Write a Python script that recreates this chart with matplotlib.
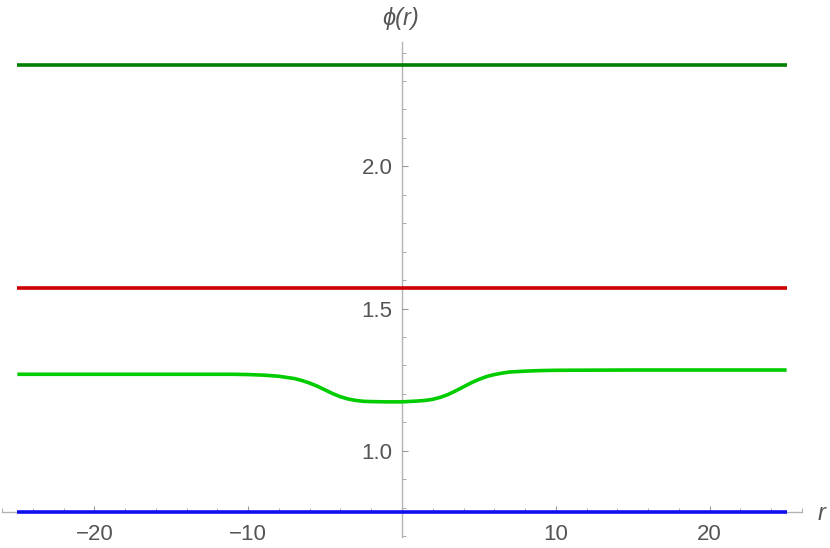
import numpy as np
import matplotlib
matplotlib.use("Agg")
import matplotlib.pyplot as plt
from matplotlib.ticker import MultipleLocator, FixedLocator

# ---- data ----
r_range = [-25.0, 25.0]
phi_dark_green = 3 * np.pi / 4
phi_red = np.pi / 2
phi_blue = np.pi / 4

r_green = [-25, -15, -11, -10, -9, -8, -7, -6.5, -6, -5.5, -5, -4.5, -4, -3.5, -3, -2.5, -2, -1, 0,
           1, 1.5, 2, 2.5, 3, 3.5, 4, 4.5, 5, 5.5, 6, 6.5, 7, 8, 9, 10, 15, 25]
phi_green = [1.269, 1.269, 1.269, 1.268, 1.266, 1.262, 1.254, 1.247, 1.238, 1.227, 1.214, 1.201,
             1.190, 1.182, 1.177, 1.174, 1.173, 1.172, 1.172,
             1.175, 1.177, 1.181, 1.188, 1.198, 1.211, 1.225, 1.239, 1.251, 1.261, 1.268,
             1.273, 1.277, 1.280, 1.282, 1.283, 1.284, 1.284]

x_major = [-20, -10, 10, 20]
x_major_labels = ["\u221220", "\u221210", "10", "20"]
y_major = [1.0, 1.5, 2.0]
y_major_labels = ["1.0", "1.5", "2.0"]

# ---- figure ----
plt.rcParams['font.family'] = ['Liberation Sans', 'DejaVu Sans']
fig = plt.figure(figsize=(8.3, 5.48), dpi=100)
ax = fig.add_axes([2 / 830, 11 / 548, 800 / 830, 495 / 548])
ax.set_xlim(-26, 26)
ax.set_ylim(0.697, 2.437)

lw = 2.6
ax.plot(r_range, [phi_dark_green] * 2, color='#008000', lw=lw, solid_capstyle='butt', zorder=3)
ax.plot(r_range, [phi_red] * 2, color='#cc0000', lw=lw, solid_capstyle='butt', zorder=3)
ax.plot(r_green, phi_green, color='#00cc00', lw=lw, solid_capstyle='butt',
        solid_joinstyle='round', zorder=3)
ax.plot(r_range, [phi_blue] * 2, color='#1010ee', lw=lw, solid_capstyle='butt', zorder=3)

axis_col = '#b3b3b3'
for s in ['top', 'right']:
    ax.spines[s].set_visible(False)
ax.spines['left'].set_position(('data', 0))
ax.spines['bottom'].set_position(('data', np.pi / 4))
for s in ['left', 'bottom']:
    ax.spines[s].set_color(axis_col)
    ax.spines[s].set_linewidth(1.0)
    ax.spines[s].set_zorder(1)

ax.xaxis.set_major_locator(FixedLocator(x_major))
ax.set_xticklabels(x_major_labels)
ax.xaxis.set_minor_locator(MultipleLocator(2))
ax.yaxis.set_major_locator(FixedLocator(y_major))
ax.set_yticklabels(y_major_labels)
ax.yaxis.set_minor_locator(MultipleLocator(0.1))

ax.tick_params(axis='both', which='major', direction='in', length=4.5, width=0.8,
               color='#999999', labelcolor='#555555', labelsize=16)
ax.tick_params(axis='both', which='minor', direction='in', length=2.8, width=0.7, color='#aaaaaa')
ax.tick_params(axis='x', which='major', pad=9)
ax.tick_params(axis='y', which='major', pad=7)

fig.text(401 / 830, 1 - 18 / 548, "\u03d5(r)", ha='center', va='center', fontsize=17,
         style='italic', color='#555555')
fig.text(822 / 830, 1 - 514 / 548, "r", ha='center', va='center', fontsize=17,
         style='italic', color='#555555')

fig.savefig("out.png", dpi=100)
